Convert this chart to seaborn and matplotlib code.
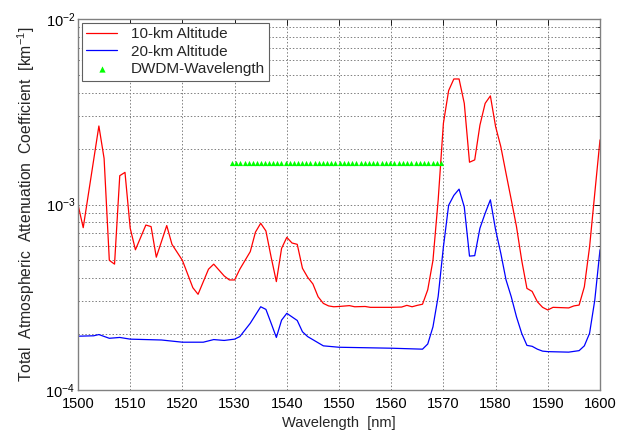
import matplotlib
matplotlib.use("Agg")
import matplotlib.pyplot as plt
import seaborn as sns
import pandas as pd
import numpy as np
from matplotlib.ticker import LogLocator, FixedLocator, NullFormatter

# --- data ---
wl_10km = [1500, 1501, 1504, 1505, 1506, 1507, 1508, 1509, 1510, 1511, 1513, 1514, 1515,
           1517, 1518, 1520, 1522, 1523, 1525, 1526, 1528, 1529, 1530, 1531, 1533, 1534,
           1535, 1536, 1537, 1538, 1539, 1540, 1541, 1542, 1543, 1544, 1545, 1546, 1547,
           1548, 1549, 1550, 1552, 1553, 1555, 1556, 1560, 1562, 1563, 1564, 1565, 1566,
           1567, 1568, 1569, 1570, 1571, 1572, 1573, 1574, 1575, 1576, 1577, 1578, 1579,
           1580, 1581, 1582, 1583, 1584, 1585, 1586, 1587, 1588, 1589, 1590, 1591, 1594,
           1595, 1596, 1597, 1598, 1599, 1600]
att_10km = [1.0e-3, 7.5e-4, 2.65e-3, 1.77e-3, 5.0e-4, 4.77e-4, 1.43e-3, 1.49e-3, 7.45e-4,
            5.7e-4, 7.75e-4, 7.6e-4, 5.2e-4, 7.7e-4, 6.1e-4, 5.0e-4, 3.56e-4, 3.28e-4,
            4.48e-4, 4.77e-4, 4.12e-4, 3.92e-4, 3.92e-4, 4.48e-4, 5.57e-4, 7.1e-4, 7.92e-4,
            7.2e-4, 5.2e-4, 3.84e-4, 5.8e-4, 6.65e-4, 6.2e-4, 6.1e-4, 4.53e-4, 4.05e-4,
            3.73e-4, 3.18e-4, 2.93e-4, 2.84e-4, 2.81e-4, 2.82e-4, 2.85e-4, 2.81e-4, 2.82e-4,
            2.79e-4, 2.79e-4, 2.8e-4, 2.86e-4, 2.81e-4, 2.86e-4, 2.9e-4, 3.47e-4, 5.0e-4,
            1.06e-3, 2.74e-3, 4.11e-3, 4.75e-3, 4.75e-3, 3.51e-3, 1.69e-3, 1.74e-3, 2.68e-3,
            3.51e-3, 3.85e-3, 2.63e-3, 2.05e-3, 1.47e-3, 1.06e-3, 7.6e-4, 5.0e-4, 3.53e-4,
            3.4e-4, 2.99e-4, 2.79e-4, 2.7e-4, 2.79e-4, 2.77e-4, 2.84e-4, 2.87e-4, 3.6e-4,
            5.9e-4, 1.15e-3, 2.23e-3]

wl_20km = [1500, 1503, 1504, 1506, 1508, 1510, 1516, 1520, 1524, 1526, 1528, 1530, 1531,
           1533, 1535, 1536, 1537, 1538, 1539, 1540, 1542, 1543, 1544, 1547, 1550, 1560,
           1566, 1567, 1568, 1569, 1570, 1571, 1572, 1573, 1574, 1575, 1576, 1577, 1578,
           1579, 1580, 1581, 1582, 1583, 1584, 1585, 1586, 1587, 1588, 1589, 1590, 1594,
           1596, 1597, 1598, 1599, 1600]
att_20km = [1.95e-4, 1.96e-4, 1.99e-4, 1.90e-4, 1.92e-4, 1.88e-4, 1.86e-4, 1.81e-4,
            1.81e-4, 1.87e-4, 1.85e-4, 1.88e-4, 1.94e-4, 2.29e-4, 2.81e-4, 2.72e-4,
            2.29e-4, 1.92e-4, 2.38e-4, 2.59e-4, 2.37e-4, 2.06e-4, 1.94e-4, 1.73e-4,
            1.70e-4, 1.68e-4, 1.66e-4, 1.77e-4, 2.19e-4, 3.2e-4, 5.9e-4, 9.9e-4, 1.12e-3,
            1.21e-3, 9.7e-4, 5.27e-4, 5.3e-4, 7.45e-4, 8.97e-4, 1.06e-3, 7.3e-4, 5.45e-4,
            3.92e-4, 3.18e-4, 2.48e-4, 2.02e-4, 1.74e-4, 1.72e-4, 1.66e-4, 1.62e-4, 1.61e-4,
            1.60e-4, 1.63e-4, 1.73e-4, 2.02e-4, 3.05e-4, 5.7e-4]

wl_dwdm = [1529.55, 1530.33, 1531.12, 1531.90, 1532.68, 1533.47, 1534.25, 1535.04,
           1535.82, 1536.61, 1537.40, 1538.19, 1538.98, 1539.77, 1540.56, 1541.35,
           1542.14, 1542.94, 1543.73, 1544.53, 1545.32, 1546.12, 1546.92, 1547.72,
           1548.51, 1549.32, 1550.12, 1550.92, 1551.72, 1552.52, 1553.33, 1554.13,
           1554.94, 1555.75, 1556.55, 1557.36, 1558.17, 1558.98, 1559.79, 1560.61,
           1561.42, 1562.23, 1563.05, 1563.86, 1564.68, 1565.50, 1566.31, 1567.13,
           1567.95, 1568.77, 1569.59]
att_dwdm = [1.68e-3] * len(wl_dwdm)

xticks = [1500, 1510, 1520, 1530, 1540, 1550, 1560, 1570, 1580, 1590, 1600]

df10 = pd.DataFrame({"wl": wl_10km, "att": att_10km})
df20 = pd.DataFrame({"wl": wl_20km, "att": att_20km})
dfd = pd.DataFrame({"wl": wl_dwdm, "att": att_dwdm})

sns.set_style("white")
plt.rcParams["font.family"] = ["Liberation Sans", "DejaVu Sans"]
plt.rcParams["mathtext.fontset"] = "custom"
plt.rcParams["mathtext.rm"] = "Liberation Sans"

fig = plt.figure(figsize=(6.24, 4.32), dpi=100)
ax = fig.add_axes([78 / 624, 42 / 432, 522 / 624, 371 / 432])

sns.lineplot(data=df10, x="wl", y="att", ax=ax, color="#ff0000", lw=0.9,
             label="10-km Altitude", estimator=None, sort=False)
sns.lineplot(data=df20, x="wl", y="att", ax=ax, color="#0000ff", lw=0.9,
             label="20-km Altitude", estimator=None, sort=False)
sns.scatterplot(data=dfd, x="wl", y="att", ax=ax, color="#00ff00", marker="^", s=14,
                linewidth=0, label="DWDM-Wavelength", zorder=3)

ax.set_yscale("log")
ax.set_xlim(1500, 1600)
ax.set_ylim(1e-4, 1e-2)
ax.xaxis.set_major_locator(FixedLocator(xticks))
ax.set_xticklabels([str(t) for t in xticks])
ax.yaxis.set_major_locator(LogLocator(base=10, numticks=10))
ax.yaxis.set_minor_locator(LogLocator(base=10, subs=np.arange(2, 10), numticks=20))
ax.yaxis.set_minor_formatter(NullFormatter())

ax.grid(True, which="major", axis="both", linestyle=(0, (1.5, 2)), color="#7f7f7f", lw=0.7)
ax.grid(True, which="minor", axis="y", linestyle=(0, (1.5, 2)), color="#7f7f7f", lw=0.7)

ax.tick_params(which="both", direction="in", top=True, right=True, labelsize=10.5,
               colors="black")
ax.tick_params(axis="y", which="major", pad=2)
ax.tick_params(axis="x", which="major", pad=5)
ax.tick_params(which="major", length=4, width=0.6)
ax.tick_params(which="minor", length=2, width=0.5)
for sp in ax.spines.values():
    sp.set_color("#808080")
    sp.set_linewidth(1.0)

ax.set_xlabel("Wavelength  [nm]", fontsize=10.5, labelpad=4)
ax.set_ylabel("Total  Atmospheric  Attenuation  Coefficient  [km$^{-1}$]", fontsize=11.3,
              labelpad=6)

leg = ax.legend(loc="upper left", fontsize=11, frameon=True, fancybox=False,
                borderpad=0.3, labelspacing=0.22, handlelength=2.0, handletextpad=0.9,
                borderaxespad=0.25, markerscale=1.2)
leg.get_frame().set_edgecolor("#606060")
leg.get_frame().set_linewidth(0.8)
leg.get_frame().set_alpha(1.0)

fig.savefig("out.png", dpi=100, facecolor="white")
